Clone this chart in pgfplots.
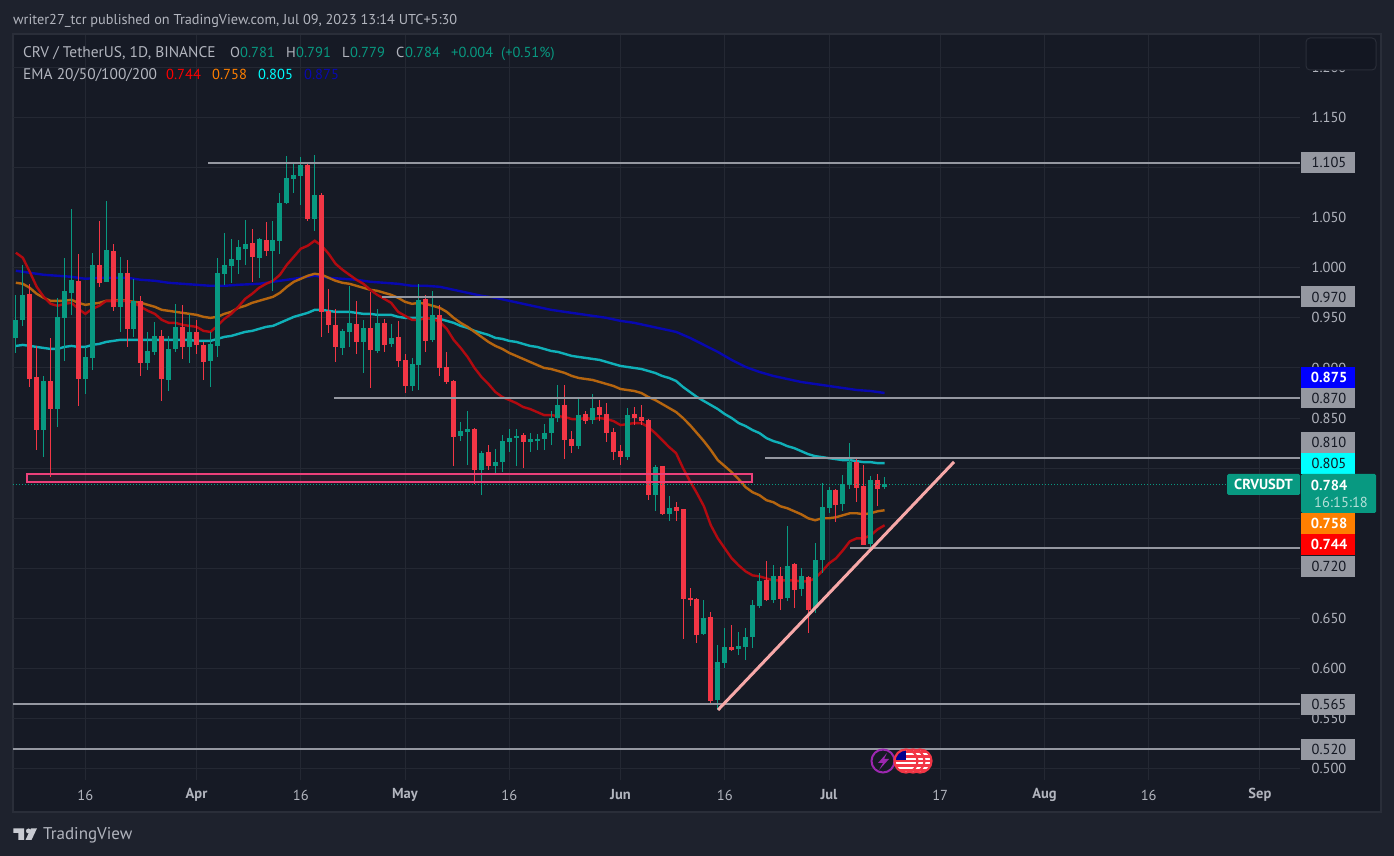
\documentclass[border=0pt]{standalone}
\usepackage{pgfplots}
\usepackage{pgfplotstable}
\pgfplotsset{compat=1.18}
\usepackage{fontspec}
\setmainfont{PT Sans}
\definecolor{outer}{HTML}{1E222D}
\definecolor{pane}{HTML}{161A25}
\definecolor{framec}{HTML}{2A2E39}
\definecolor{gridc}{HTML}{242833}
\definecolor{txt}{HTML}{B2B5BE}
\definecolor{hl}{HTML}{9598A1}
\definecolor{cg}{HTML}{089981}
\definecolor{cr}{HTML}{F23645}
\definecolor{tagdark}{HTML}{131722}
\definecolor{ema1}{HTML}{B20A10}
\definecolor{ema2}{HTML}{B5650F}
\definecolor{ema3}{HTML}{10B0B8}
\definecolor{ema4}{HTML}{0808B0}
\definecolor{boxc}{HTML}{EC407A}
\definecolor{trend}{HTML}{F7A8A8}
\definecolor{purp}{HTML}{9C27B0}
\definecolor{tagblue}{HTML}{0000FF}
\definecolor{tagcyan}{HTML}{00FFFF}
\definecolor{tagorange}{HTML}{FF7F00}
\definecolor{tagred}{HTML}{FF0000}
\newcommand{\fs}{\fontsize{14.5}{16}\selectfont}
\newcommand{\fh}{\fontsize{14.3}{16}\selectfont}
\newcommand{\fl}{\fontsize{15.4}{17}\selectfont}
\tikzset{leg/.style={anchor=base west,inner sep=0pt,font=\fs}}
\pgfplotstableread{
d b t l h
-117 .930 .948 .915 .973
-116 .948 .973 .942 1.003
-113 .838 .887 .811 .892
-111 .859 .951 .841 .970
-110 .950 .977 .907 1.010
-109 .975 .988 .953 1.059
-107 .889 .911 .874 .921
-106 .910 1.003 .898 1.015
-104 .986 1.018 .986 1.067
-102 .961 .995 .936 1.011
-100 .939 .967 .931 .989
-98 .905 .917 .898 .936
-97 .916 .932 .913 .946
-95 .888 .919 .877 .932
-94 .919 .941 .916 .964
-92 .921 .936 .905 .954
-89 .907 .924 .881 .936
-88 .922 .995 .911 1.010
-87 .994 1.003 .983 1.035
-86 1.002 1.009 .985 1.029
-85 1.008 1.021 .994 1.028
-84 1.019 1.024 1.003 1.048
-82 1.010 1.029 .990 1.030
-80 1.017 1.028 .977 1.047
-79 1.027 1.065 1.014 1.075
-78 1.065 1.090 1.064 1.112
-77 1.089 1.093 1.075 1.106
-76 1.092 1.103 1.063 1.111
-74 1.049 1.073 1.037 1.113
-70 .920 .937 .913 .939
-69 .936 .945 .921 .982
-67 .926 .940 .895 .948
-65 .917 .945 .915 .959
-63 .924 .930 .921 .944
-60 .882 .904 .877 .910
-59 .903 .968 .878 .984
-57 .928 .953 .926 .977
-53 .832 .837 .827 .846
-52 .836 .839 .803 .857
-50 .798 .815 .773 .817
-48 .802 .806 .794 .819
-47 .806 .827 .796 .833
-46 .826 .830 .816 .839
-45 .830 .832 .802 .839
-43 .826 .829 .816 .835
-42 .828 .829 .818 .834
-41 .829 .835 .818 .844
-40 .835 .850 .823 .857
-39 .850 .863 .846 .883
-36 .822 .853 .819 .871
-34 .848 .860 .844 .874
-29 .811 .853 .808 .860
-25 .773 .801 .757 .803
-23 .754 .760 .747 .772
-18 .635 .650 .634 .668
-16 .569 .607 .559 .624
-15 .606 .622 .601 .640
-13 .620 .623 .614 .636
-12 .622 .632 .609 .640
-11 .632 .663 .621 .668
-10 .662 .687 .660 .695
-8 .668 .692 .665 .703
-6 .670 .702 .667 .742
-4 .679 .692 .672 .700
-2 .660 .708 .655 .725
-1 .708 .761 .695 .785
0 .760 .778 .755 .781
2 .764 .784 .757 .793
3 .783 .806 .779 .825
6 .724 .788 .716 .792
8 .781 .784 .779 .791
}\upT
\pgfplotstableread{
d b t l h
-115 .889 .974 .881 .984
-114 .838 .891 .818 .922
-112 .859 .887 .791 .930
-108 .889 .987 .862 1.014
-105 .985 1.003 .981 1.047
-103 .961 1.017 .957 1.024
-101 .939 .995 .921 1.008
-99 .905 .967 .892 .972
-96 .889 .932 .867 .938
-93 .921 .941 .909 .963
-91 .923 .936 .914 .948
-90 .906 .923 .888 .926
-83 1.011 1.025 .986 1.039
-81 1.017 1.028 1.012 1.046
-75 1.049 1.103 1.047 1.104
-73 .956 1.073 .931 1.075
-72 .943 .957 .935 .979
-71 .921 .943 .906 .959
-68 .926 .944 .914 .967
-66 .918 .940 .880 .976
-64 .923 .945 .916 .949
-62 .907 .931 .901 .947
-61 .882 .908 .875 .914
-58 .927 .969 .916 .973
-56 .900 .953 .892 .963
-55 .886 .901 .884 .916
-54 .831 .887 .802 .888
-51 .798 .839 .784 .840
-49 .802 .816 .798 .823
-44 .826 .833 .800 .835
-38 .828 .863 .809 .883
-37 .822 .829 .815 .837
-35 .847 .854 .844 .857
-33 .853 .861 .847 .868
-32 .835 .854 .826 .865
-31 .816 .836 .808 .840
-30 .811 .817 .803 .823
-28 .850 .854 .843 .861
-27 .847 .851 .843 .863
-26 .773 .848 .768 .849
-24 .754 .802 .753 .802
-22 .757 .761 .747 .766
-21 .669 .759 .630 .759
-20 .668 .670 .662 .680
-19 .634 .669 .626 .670
-17 .568 .651 .565 .656
-14 .619 .622 .618 .643
-9 .668 .688 .667 .707
-7 .669 .692 .658 .701
-5 .678 .704 .660 .705
-3 .658 .691 .636 .692
1 .763 .778 .746 .779
4 .780 .806 .766 .811
5 .723 .782 .723 .803
7 .779 .788 .762 .794
}\downT
\pgfplotstableread{
d p
-117 1.015
-116 1.010
-115 .996
-114 .981
-113 .971
-112 .964
-111 .962
-110 .964
-109 .965
-108 .959
-107 .954
-106 .959
-105 .962
-104 .967
-103 .967
-102 .967
-101 .967
-100 .965
-99 .961
-98 .957
-97 .954
-96 .948
-95 .945
-94 .945
-93 .943
-92 .942
-91 .941
-90 .937
-89 .936
-88 .942
-87 .949
-86 .954
-85 .961
-84 .969
-83 .974
-82 .980
-81 .984
-80 .987
-79 .993
-78 1.003
-77 1.011
-76 1.019
-75 1.022
-74 1.027
-73 1.022
-72 1.014
-71 1.004
-70 .998
-69 .993
-68 .988
-67 .984
-66 .978
-65 .973
-64 .969
-63 .965
-62 .956
-61 .952
-60 .948
-59 .948
-58 .950
-57 .949
-56 .946
-55 .939
-54 .928
-53 .920
-52 .911
-51 .900
-50 .891
-49 .884
-48 .876
-47 .871
-46 .868
-45 .865
-44 .861
-43 .859
-42 .856
-41 .853
-40 .853
-39 .852
-38 .851
-37 .849
-36 .849
-35 .850
-34 .849
-33 .850
-32 .849
-31 .847
-30 .843
-29 .844
-28 .845
-27 .845
-26 .841
-25 .835
-24 .828
-23 .821
-22 .815
-21 .800
-20 .787
-19 .775
-18 .762
-17 .743
-16 .730
-15 .720
-14 .710
-13 .703
-12 .697
-11 .693
-10 .692
-9 .690
-8 .688
-7 .688
-6 .688
-5 .688
-4 .687
-3 .687
-2 .690
-1 .697
0 .705
1 .710
2 .718
3 .727
4 .730
5 .730
6 .733
7 .739
8 .743
}\emaA
\pgfplotstableread{
d p
-117 .985
-116 .984
-115 .980
-114 .974
-113 .970
-112 .967
-111 .967
-110 .967
-109 .968
-108 .965
-107 .963
-106 .964
-105 .965
-104 .967
-103 .967
-102 .968
-101 .967
-100 .966
-99 .965
-98 .963
-97 .961
-96 .958
-95 .957
-94 .956
-93 .955
-92 .954
-91 .953
-90 .951
-89 .950
-88 .951
-87 .954
-86 .956
-85 .960
-84 .962
-83 .965
-82 .967
-81 .969
-80 .971
-79 .975
-78 .981
-77 .986
-76 .989
-75 .992
-74 .994
-73 .993
-72 .990
-71 .987
-70 .985
-69 .984
-68 .982
-67 .980
-66 .978
-65 .977
-64 .975
-63 .973
-62 .970
-61 .966
-60 .964
-59 .965
-58 .964
-57 .962
-56 .960
-55 .956
-54 .950
-53 .945
-52 .941
-51 .936
-50 .931
-49 .926
-48 .922
-47 .919
-46 .915
-45 .912
-44 .909
-43 .906
-42 .903
-41 .900
-40 .899
-39 .897
-38 .895
-37 .892
-36 .890
-35 .889
-34 .888
-33 .886
-32 .884
-31 .882
-30 .879
-29 .878
-28 .877
-27 .875
-26 .871
-25 .868
-24 .864
-23 .860
-22 .856
-21 .850
-20 .843
-19 .835
-18 .827
-17 .818
-16 .808
-15 .802
-14 .796
-13 .789
-12 .781
-11 .776
-10 .773
-9 .768
-8 .766
-7 .762
-6 .760
-5 .757
-4 .754
-3 .750
-2 .748
-1 .750
0 .750
1 .751
2 .753
3 .755
4 .755
5 .754
6 .755
7 .757
8 .758
}\emaB
\pgfplotstableread{
d p
-117 .922
-116 .923
-115 .922
-114 .921
-113 .920
-112 .919
-111 .919
-110 .921
-109 .922
-108 .921
-107 .921
-106 .923
-105 .924
-104 .926
-103 .927
-102 .928
-101 .928
-100 .928
-95 .928
-92 .928
-91 .927
-90 .927
-89 .927
-88 .929
-87 .931
-86 .932
-85 .934
-84 .936
-83 .937
-82 .939
-81 .941
-80 .942
-79 .945
-78 .948
-77 .951
-76 .953
-75 .955
-74 .958
-73 .958
-72 .957
-71 .956
-70 .956
-69 .956
-68 .955
-67 .954
-66 .954
-65 .953
-64 .953
-63 .953
-62 .951
-61 .950
-60 .950
-59 .950
-58 .950
-57 .949
-56 .949
-55 .947
-54 .945
-53 .942
-52 .940
-51 .937
-50 .935
-49 .933
-48 .930
-47 .929
-46 .927
-45 .926
-44 .924
-43 .922
-42 .921
-41 .919
-40 .917
-39 .916
-38 .914
-37 .912
-36 .911
-35 .910
-34 .909
-33 .908
-32 .906
-31 .904
-30 .902
-29 .901
-28 .900
-27 .899
-26 .897
-25 .895
-24 .892
-23 .890
-22 .887
-21 .881
-20 .876
-19 .871
-18 .867
-17 .863
-16 .859
-15 .854
-14 .850
-13 .845
-12 .842
-11 .838
-10 .835
-9 .830
-8 .827
-7 .825
-6 .822
-5 .820
-4 .817
-3 .814
-2 .812
-1 .811
0 .810
1 .809
2 .808
3 .808
4 .807
5 .806
6 .806
7 .805
8 .805
}\emaC
\pgfplotstableread{
d p
-117 .997
-115 .995
-113 .993
-111 .992
-109 .991
-107 .989
-105 .990
-103 .990
-101 .990
-99 .988
-97 .987
-95 .985
-93 .984
-91 .983
-89 .982
-87 .982
-85 .983
-82 .984
-80 .986
-78 .988
-76 .990
-74 .992
-72 .990
-70 .989
-68 .988
-66 .986
-64 .985
-62 .984
-60 .982
-58 .982
-56 .981
-54 .978
-52 .975
-50 .972
-48 .970
-46 .967
-44 .964
-42 .961
-40 .958
-38 .956
-36 .954
-34 .952
-32 .950
-30 .947
-28 .945
-26 .942
-24 .939
-22 .936
-20 .930
-18 .923
-16 .916
-14 .908
-12 .901
-10 .896
-8 .892
-6 .889
-4 .886
-2 .884
0 .882
2 .880
4 .878
6 .877
8 .875
}\emaD
\newcommand{\pricetag}[5]{%
  \fill[#2] (1301,{#1-10.5}) rectangle (1355,{#1+10.5});
  \node[text=#3,font=\fs#5,inner sep=0pt] at (1329,#1) {#4};}
\newcommand{\flagc}[1]{%
  \begin{scope}
    \clip (#1,761) circle (11.5);
    \fill[white] ({#1-12},749) rectangle ({#1+12},773);
    \foreach \s in {751,755.5,760,764.5,769}{\fill[cr] ({#1-12},\s) rectangle ({#1+12},\s+2.2);}
    \fill[blue!55!black] ({#1-12},749) rectangle (#1,760);
  \end{scope}
  \draw[cr,line width=2.2pt] (#1,761) circle (11.5);}
\begin{document}
\begin{tikzpicture}
\begin{scope}[x=1pt,y=-1pt,yshift=856pt]
\fill[outer] (0,0) rectangle (1394,856);
\fill[pane] (13,34) rectangle (1381,812);
\draw[framec,line width=1.5pt] (13,34) rectangle (1381,812);
\end{scope}
\begin{axis}[at={(13pt,76pt)},anchor=south west,scale only axis,width=1287pt,height=745pt,
  xmin=-117.41,xmax=67.77,ymin=0.4888,ymax=1.2323,
  axis line style={draw=none},major tick length=0pt,
  grid=major,grid style={draw=gridc,line width=1pt},
  xtick={-107,-91,-76,-61,-46,-30,-15,0,16,31,46,62},
  xticklabels={16,\textbf{Apr},16,\textbf{May},16,\textbf{Jun},16,\textbf{Jul},17,\textbf{Aug},16,\textbf{Sep}},
  xticklabel style={font=\fs,text=txt,anchor=center,yshift=-15pt},
  ytick={.5,.55,.6,.65,.7,.75,.8,.85,.9,.95,1,1.05,1.1,1.15,1.2},
  yticklabels={0.500,0.550,0.600,0.650,,,,0.850,0.900,0.950,1.000,1.050,,1.150,1.200},
  yticklabel pos=right,
  yticklabel style={font=\fs,text=txt,anchor=center,xshift=29pt},
  clip=true]
\addplot[ema4,line width=2.4pt] table[x=d,y=p]{\emaD};
\addplot[ema3,line width=2.4pt] table[x=d,y=p]{\emaC};
\addplot[ema2,line width=2.4pt] table[x=d,y=p]{\emaB};
\addplot[ema1,line width=2.4pt] table[x=d,y=p]{\emaA};
\addplot[draw=none,mark=none,error bars/.cd,y dir=both,y explicit,error mark=none,error bar style={draw=cg,line width=1pt}]
  table[x=d,y expr={(\thisrow{l}+\thisrow{h})/2},y error expr={(\thisrow{h}-\thisrow{l})/2}]{\upT};
\addplot[draw=none,mark=none,error bars/.cd,y dir=both,y explicit,error mark=none,error bar style={draw=cg,line width=5pt}]
  table[x=d,y expr={(\thisrow{b}+\thisrow{t})/2},y error expr={(\thisrow{t}-\thisrow{b})/2}]{\upT};
\addplot[draw=none,mark=none,error bars/.cd,y dir=both,y explicit,error mark=none,error bar style={draw=cr,line width=1pt}]
  table[x=d,y expr={(\thisrow{l}+\thisrow{h})/2},y error expr={(\thisrow{h}-\thisrow{l})/2}]{\downT};
\addplot[draw=none,mark=none,error bars/.cd,y dir=both,y explicit,error mark=none,error bar style={draw=cr,line width=5pt}]
  table[x=d,y expr={(\thisrow{b}+\thisrow{t})/2},y error expr={(\thisrow{t}-\thisrow{b})/2}]{\downT};
\addplot[hl,line width=2pt] coordinates {(-89.35,1.105)(67.77,1.105)};
\addplot[hl,line width=2pt] coordinates {(-64.3,.971)(67.77,.971)};
\addplot[hl,line width=2pt] coordinates {(-71.2,.870)(67.77,.870)};
\addplot[hl,line width=2pt] coordinates {(-9.2,.810)(67.77,.810)};
\addplot[hl,line width=2pt] coordinates {(3,.720)(67.77,.720)};
\addplot[hl,line width=2pt] coordinates {(-117.41,.565)(67.77,.565)};
\addplot[hl,line width=2pt] coordinates {(-117.41,.520)(67.77,.520)};
\addplot[cg,line width=1pt,dotted] coordinates {(-117.41,.784)(57.4,.784)};
\addplot[boxc,line width=2pt,fill=boxc,fill opacity=0.08] coordinates {(-115.4,.786)(-11.08,.786)(-11.08,.7946)(-115.4,.7946)} -- cycle;
\addplot[trend,line width=3pt] coordinates {(-15.97,.5587)(17.99,.8062)};
\end{axis}
\begin{scope}[x=1pt,y=-1pt,yshift=856pt]
% header
\node[leg,text=txt,font=\fh] at (13,25) {writer27\_tcr published on TradingView.com, Jul 09, 2023 13:14 UTC+5:30};
\node[leg,text=txt,font=\fl] at (23,58) {CRV / TetherUS, 1D, BINANCE};
\node[leg,text=txt] at (230,58) {O};
\node[leg,text=cg] at (240,58) {0.781};
\node[leg,text=txt] at (286,58) {H};
\node[leg,text=cg] at (296,58) {0.791};
\node[leg,text=txt] at (342,58) {L};
\node[leg,text=cg] at (350,58) {0.779};
\node[leg,text=txt] at (396,58) {C};
\node[leg,text=cg] at (405,58) {0.784};
\node[leg,text=cg] at (451,58) {+0.004};
\node[leg,text=cg] at (501,58) {(+0.51\%)};
\node[leg,text=txt,font=\fl] at (23,80) {EMA 20/50/100/200};
\node[leg,text=tagred] at (166,80) {0.744};
\node[leg,text=tagorange] at (212,80) {0.758};
\node[leg,text=tagcyan] at (258,80) {0.805};
\node[leg,text=ema4] at (304,80) {0.875};
% button
\fill[tagdark,draw=framec,line width=1pt,rounded corners=4pt] (1306,38) rectangle (1376,70);
% price tags
\pricetag{162.5}{hl}{tagdark}{1.105}{}
\pricetag{297}{hl}{tagdark}{0.970}{}
\pricetag{398}{hl}{tagdark}{0.870}{}
\pricetag{377.5}{tagblue}{white}{0.875}{\bfseries}
\pricetag{442.5}{hl}{tagdark}{0.810}{}
\pricetag{463.5}{tagcyan}{tagdark}{0.805}{}
\pricetag{523.5}{tagorange}{white}{0.758}{\bfseries}
\pricetag{544.5}{tagred}{white}{0.744}{\bfseries}
\pricetag{566.5}{hl}{tagdark}{0.720}{}
\pricetag{704.5}{hl}{tagdark}{0.565}{}
\pricetag{749.5}{hl}{tagdark}{0.520}{}
\fill[cg,rounded corners=1.5pt] (1301,474) rectangle (1376,513);
\node[text=white,font=\fs\bfseries,inner sep=0pt] at (1329,485) {0.784};
\node[text=white!70!cg,font=\fs,inner sep=0pt] at (1341,502.5) {16:15:18};
\fill[cg,rounded corners=1.5pt] (1227,474) rectangle (1300,495);
\node[text=white,font=\fs\bfseries,inner sep=0pt] at (1263.5,484.5) {CRVUSDT};
% event icons
\fill[pane,draw=purp,line width=2pt] (883,761) circle (11.5);
\fill[purp] (887,753) -- (878,763) -- (883,763) -- (879,770) -- (889,759) -- (884,759) -- cycle;
\flagc{920}
\flagc{913}
\flagc{906}
% footer logo
\fill[txt!70!white] (13.3,828.3) -- (24,828.3) -- (24,840) -- (18.3,840) -- (18.3,833) -- (13.3,833) -- cycle;
\fill[txt!70!white] (28.5,831) circle (2.5);
\fill[txt!70!white] (37,828.3) -- (31.5,840) -- (25.5,840) -- (31,828.3) -- cycle;
\node[anchor=west,text=txt,font=\fontsize{17}{19}\selectfont,inner sep=0pt] at (43,835) {TradingView};
\end{scope}
\end{tikzpicture}
\end{document}
